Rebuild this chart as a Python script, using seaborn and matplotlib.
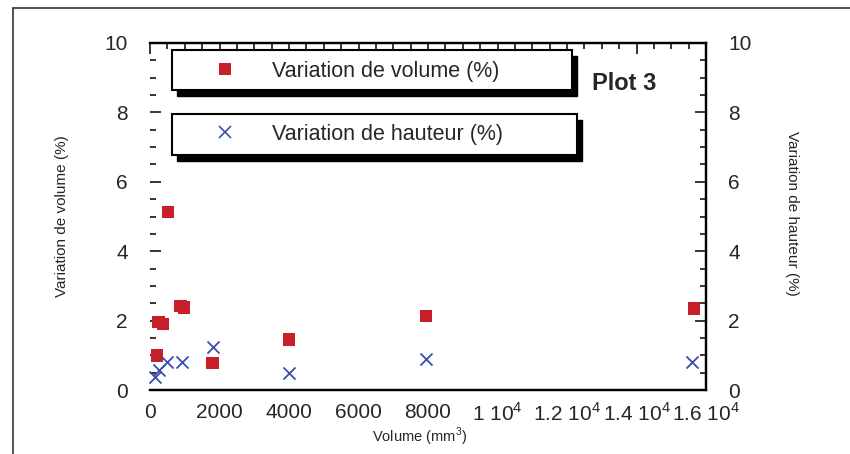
import matplotlib
matplotlib.use("Agg")

import pandas as pd
import matplotlib.pyplot as plt
import seaborn as sns
from matplotlib.patches import Rectangle
from matplotlib.lines import Line2D
from matplotlib.ticker import MultipleLocator

# Data
volume_x = [200, 240, 380, 520, 880, 980, 1800, 4000, 7950, 15650]
volume_y = [1.00, 1.96, 1.90, 5.13, 2.42, 2.38, 0.77, 1.46, 2.14, 2.35]
hauteur_x = [140, 270, 480, 910, 1820, 4000, 7950, 15600]
hauteur_y = [0.37, 0.58, 0.82, 0.82, 1.23, 0.50, 0.90, 0.82]

x_ticks = [0, 2000, 4000, 6000, 8000, 10000, 12000, 14000, 16000]
x_ticklabels = ["0", "2000", "4000", "6000", "8000",
                "1 10$^{4}$", "1.2 10$^{4}$", "1.4 10$^{4}$", "1.6 10$^{4}$"]
y_ticks = [0, 2, 4, 6, 8, 10]

red = "#c8202a"
blue = "#3a4db0"

sns.set_style("white")
plt.rcParams["font.family"] = ["Liberation Sans", "DejaVu Sans"]
plt.rcParams["mathtext.fontset"] = "custom"
plt.rcParams["mathtext.rm"] = "Liberation Sans"

W, H = 850, 454
fig = plt.figure(figsize=(8.5, 4.54), dpi=100)


def fx(px):
    return px / W


def fy(py):
    return 1 - py / H


ax = fig.add_axes([fx(150), fy(390), fx(706) - fx(150), fy(43) - fy(390)])
ax2 = ax.twinx()

vol = pd.DataFrame({"x": volume_x, "y": volume_y})
hau = pd.DataFrame({"x": hauteur_x, "y": hauteur_y})

sns.scatterplot(data=vol, x="x", y="y", ax=ax, marker="s", s=80, color=red,
                edgecolor="none", label="Variation de volume (%)", legend=False, clip_on=False)
sns.scatterplot(data=hau, x="x", y="y", ax=ax2, marker="x", s=75, color=blue,
                linewidth=1.3, label="Variation de hauteur (%)", legend=False, clip_on=False)

for a in (ax, ax2):
    a.set_xlim(0, 16000)
    a.set_ylim(0, 10)
    for s in a.spines.values():
        s.set_linewidth(1.6)
        s.set_color("black")
    a.spines["left"].set_visible(False)

ax.set_xticks(x_ticks)
ax.set_xticklabels(x_ticklabels)
ax.xaxis.set_minor_locator(MultipleLocator(500))
ax.set_yticks(y_ticks)
ax.yaxis.set_minor_locator(MultipleLocator(0.5))
ax.tick_params(axis="both", which="major", direction="in", length=8, width=1.3,
               labelsize=15, top=True, right=False)
ax.tick_params(axis="both", which="minor", direction="in", length=4, width=1.3,
               top=True, right=False)
ax.tick_params(axis="x", pad=9)
ax.tick_params(axis="y", pad=16)

ax2.set_yticks(y_ticks)
ax2.yaxis.set_minor_locator(MultipleLocator(0.5))
ax2.tick_params(axis="y", which="major", direction="in", length=8, width=1.3,
                labelsize=15, pad=16)
ax2.tick_params(axis="y", which="minor", direction="in", length=4, width=1.3)

ax.set_xlabel("")
ax.set_ylabel("")
ax2.set_ylabel("")
fig.text(fx(420), fy(437), "Volume (mm$^{3}$)", ha="center", va="center", fontsize=10.5)
fig.text(fx(62), fy(216), "Variation de volume (%)", ha="center", va="center",
         rotation=90, fontsize=11)
fig.text(fx(792), fy(213), "Variation de hauteur (%)", ha="center", va="center",
         rotation=-90, fontsize=11)
fig.text(fx(592), fy(83), "Plot 3", ha="left", va="center", fontsize=17, fontweight="bold")

# Legend boxes with a solid drop shadow, as in the original
boxes = [(172, 50, 572, 90), (172, 114, 577, 155)]
for x0, y0, x1, y1 in boxes:
    fig.add_artist(Rectangle((fx(x0 + 5), fy(y1 + 6)), fx(x1) - fx(x0), fy(y0) - fy(y1),
                             transform=fig.transFigure, facecolor="black", edgecolor="black",
                             zorder=5))
    fig.add_artist(Rectangle((fx(x0), fy(y1)), fx(x1) - fx(x0), fy(y0) - fy(y1),
                             transform=fig.transFigure, facecolor="white", edgecolor="black",
                             linewidth=1.5, zorder=6))

h_vol = Line2D([], [], marker="s", linestyle="none", color=red, markersize=8.5,
               markeredgewidth=0)
h_hau = Line2D([], [], marker="x", linestyle="none", color=blue, markersize=8,
               markeredgewidth=1.2)
for h, lab, yc in [(h_vol, "Variation de volume (%)", 71),
                   (h_hau, "Variation de hauteur (%)", 134)]:
    leg = fig.legend(handles=[h], labels=[lab], loc="center left",
                     bbox_to_anchor=(fx(214), fy(yc)), frameon=False, fontsize=15.5,
                     borderpad=0, borderaxespad=0, handlelength=1.0, handletextpad=1.7,
                     numpoints=1)
    leg.set_zorder(7)

# Outer frame of the scanned page
fig.add_artist(Line2D([fx(13), fx(13)], [fy(8), 0], transform=fig.transFigure,
                      color="#333333", linewidth=1.2))
fig.add_artist(Line2D([fx(13), 1], [fy(8), fy(8)], transform=fig.transFigure,
                      color="#333333", linewidth=1.2))

fig.savefig("out.png", dpi=100)
